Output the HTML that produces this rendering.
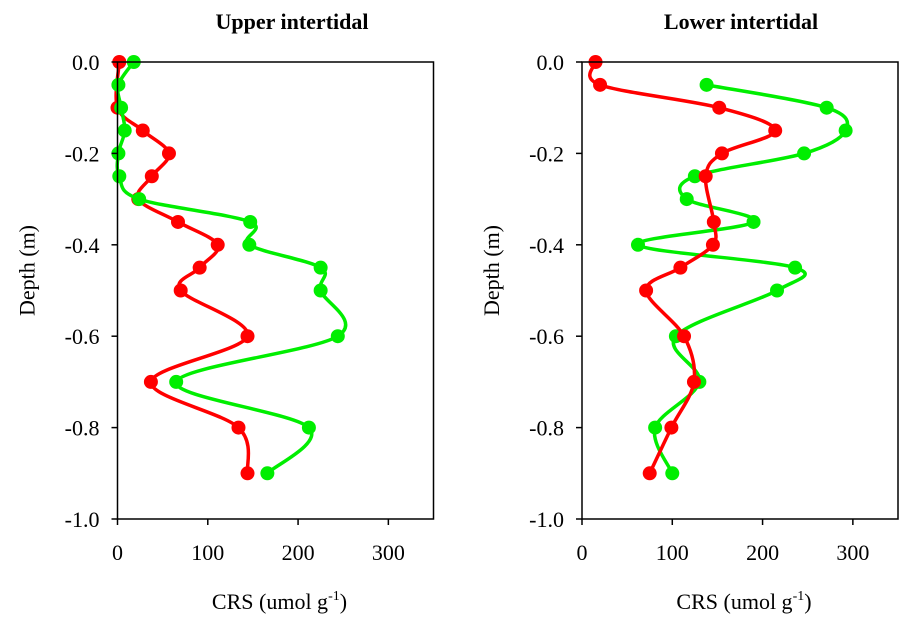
<!DOCTYPE html>
<html><head><meta charset="utf-8"><style>
body{margin:0;background:#fff;}
svg text{font-family:"Liberation Serif",serif;fill:#000;}
</style></head><body>
<svg id="chart" width="914" height="626" xmlns="http://www.w3.org/2000/svg"></svg>
<script>
const depths = [0,-0.05,-0.1,-0.15,-0.2,-0.25,-0.3,-0.35,-0.4,-0.45,-0.5,-0.6,-0.7,-0.8,-0.9];
const upperRed = [2,null,0,28,57,38,23,67,111,91,70,144,37,134,144];
const upperGreen = [18,1,4,8,1,2,24,147,146,225,225,244,65,212,166];
const lowerRedDepths = [0,-0.05,-0.1,-0.15,-0.2,-0.25,-0.35,-0.4,-0.45,-0.5,-0.6,-0.7,-0.8,-0.9];
const lowerRed = [15,20,152,214,155,137,146,145,109,71,113,124,99,75];
const lowerGreenDepths = [-0.05,-0.1,-0.15,-0.2,-0.25,-0.3,-0.35,-0.4,-0.45,-0.5,-0.6,-0.7,-0.8,-0.9];
const lowerGreen = [138,271,292,246,125,116,190,62,236,216,104,130,81,100];
const xTicks = [0,100,200,300];
const yTicks = [0,-0.2,-0.4,-0.6,-0.8,-1.0];

const svg = document.getElementById('chart');
const NS = 'http://www.w3.org/2000/svg';
function mk(tag, attrs, parent){const e=document.createElementNS(NS,tag);for(const k in attrs)e.setAttribute(k,attrs[k]);(parent||svg).appendChild(e);return e;}

function spline(pts){
  let d='M'+pts[0][0]+','+pts[0][1];
  for(let i=0;i<pts.length-1;i++){
    const p0=pts[i-1]||pts[i],p1=pts[i],p2=pts[i+1],p3=pts[i+2]||p2;
    const t=1/6;
    const c1=[p1[0]+(p2[0]-p0[0])*t,p1[1]+(p2[1]-p0[1])*t];
    const c2=[p2[0]-(p3[0]-p1[0])*t,p2[1]-(p3[1]-p1[1])*t];
    d+=' C'+c1+' '+c2+' '+p2;
  }
  return d;
}

function panel(x0, title, titleX, name, series){
  const y0=62, w=316, h=457, xMax=350;
  const sx=v=>x0+v/xMax*w, sy=v=>y0+(-v)*h;
  const g=mk('g',{});  
  const t=mk('text',{x:titleX,y:29,'text-anchor':'middle','font-size':22,'font-weight':'bold'},g);
  t.textContent=title;  
  series.forEach(s=>{
    const pts=[];
    s.vals.forEach((v,i)=>{if(v!==null)pts.push([sx(v),sy(s.depths[i])]);});
    const p=mk('path',{d:spline(pts),fill:'none',stroke:s.color,'stroke-width':3.5},g);
     
    pts.forEach(q=>{const c=mk('circle',{cx:q[0],cy:q[1],r:7,fill:s.color},g);
       });
  });
  const box=mk('rect',{x:x0,y:y0,width:w,height:h,fill:'none',stroke:'#000','stroke-width':1.5},g);
   
  xTicks.forEach(v=>{
    mk('line',{x1:sx(v),x2:sx(v),y1:y0+h,y2:y0+h+6,stroke:'#000','stroke-width':1.5},g);
    const l=mk('text',{x:sx(v),y:y0+h+41,'text-anchor':'middle','font-size':22},g);l.textContent=v;
     
  });
  yTicks.forEach(v=>{
    mk('line',{x1:x0-6,x2:x0,y1:sy(v),y2:sy(v),stroke:'#000','stroke-width':1.5},g);
    const l=mk('text',{x:x0-18,y:sy(v)+8,'text-anchor':'end','font-size':22},g);l.textContent=v.toFixed(1);
     
  });
  const xt=mk('text',{x:x0+w/2+4,y:609,'text-anchor':'middle','font-size':22},g);
  xt.innerHTML='CRS (umol g<tspan dy="-9" font-size="14">-1</tspan><tspan dy="9">)</tspan>';
   
  const yt=mk('text',{x:0,y:0,'text-anchor':'middle','font-size':22,transform:'translate('+(x0-83)+','+(y0+h/2-20)+') rotate(-90)'},g);
  yt.textContent='Depth (m)';
   
}
panel(117.5,'Upper intertidal',292,'upper-intertidal-panel',[
  {vals:upperRed,depths:depths,color:'#ff0000',name:'upper-red'},
  {vals:upperGreen,depths:depths,color:'#00ee00',name:'upper-green'}]);
panel(582,'Lower intertidal',741,'lower-intertidal-panel',[
  {vals:lowerGreen,depths:lowerGreenDepths,color:'#00ee00',name:'lower-green'},
  {vals:lowerRed,depths:lowerRedDepths,color:'#ff0000',name:'lower-red'}]);
</script>
</body></html>
